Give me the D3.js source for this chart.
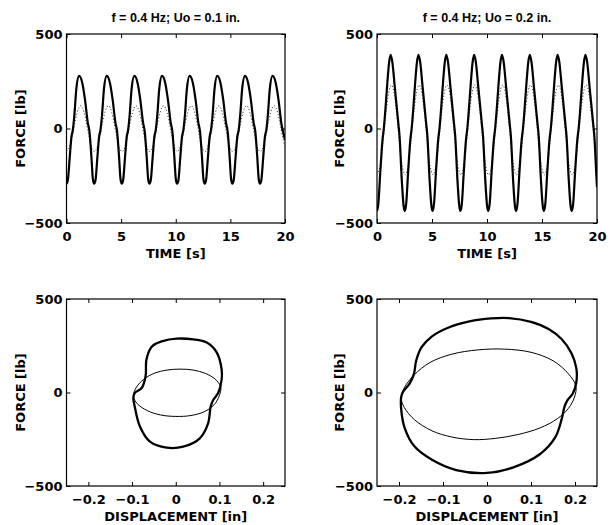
<!DOCTYPE html>
<html lang="en">
<head>
  <meta charset="utf-8">
  <title>Force histories and hysteresis loops</title>
  <script src="https://d3js.org/d3.v7.min.js"></script>
  <style>
    body { margin: 0; background: #fff; }
    text { font-weight: bold; fill: #000; }
    .lab { font-family: "DejaVu Sans", Verdana, sans-serif; }
    .ttl { font-family: "Liberation Sans", Arial, sans-serif; }
  </style>
</head>
<body>
<script>
// ---- data ----
var titles = ["f = 0.4 Hz; Uo = 0.1 in.", "f = 0.4 Hz; Uo = 0.2 in."];
var timeTicks = [0, 5, 10, 15, 20];
var forceTicks = [-500, 0, 500];
var dispTicks = [-0.2, -0.1, 0, 0.1, 0.2];

// measured force, Uo = 0.1 in.
var tL = [0, 0.12, 0.3, 0.45, 0.58, 0.72, 0.9, 1.15, 1.45, 1.7, 1.95, 2.1, 2.28, 2.42,
  2.53, 2.65, 2.83, 2.98, 3.11, 3.25, 3.43, 3.68, 3.98, 4.23, 4.48, 4.63, 4.81, 4.95,
  5.06, 5.18, 5.36, 5.51, 5.64, 5.78, 5.96, 6.21, 6.51, 6.76, 7.01, 7.16, 7.34, 7.48,
  7.59, 7.71, 7.89, 8.04, 8.17, 8.31, 8.49, 8.74, 9.04, 9.29, 9.54, 9.69, 9.87, 10.01,
  10.12, 10.24, 10.42, 10.57, 10.7, 10.84, 11.02, 11.27, 11.57, 11.82, 12.07, 12.22, 12.4, 12.54,
  12.65, 12.77, 12.95, 13.1, 13.23, 13.37, 13.55, 13.8, 14.1, 14.35, 14.6, 14.75, 14.93, 15.07,
  15.18, 15.3, 15.48, 15.63, 15.76, 15.9, 16.08, 16.33, 16.63, 16.88, 17.13, 17.28, 17.46, 17.6,
  17.71, 17.83, 18.01, 18.16, 18.29, 18.43, 18.61, 18.86, 19.16, 19.41, 19.66, 19.81, 20];
var fL = [-292, -275, -150, -45, -8, 70, 210, 278, 240, 150, 30, -15, -150, -270,
  -292, -275, -150, -45, -8, 70, 210, 278, 240, 150, 30, -15, -150, -270,
  -292, -275, -150, -45, -8, 70, 210, 278, 240, 150, 30, -15, -150, -270,
  -292, -275, -150, -45, -8, 70, 210, 278, 240, 150, 30, -15, -150, -270,
  -292, -275, -150, -45, -8, 70, 210, 278, 240, 150, 30, -15, -150, -270,
  -292, -275, -150, -45, -8, 70, 210, 278, 240, 150, 30, -15, -150, -270,
  -292, -275, -150, -45, -8, 70, 210, 278, 240, 150, 30, -15, -150, -270,
  -292, -275, -150, -45, -8, 70, 210, 278, 240, 150, 30, -15, -60];

// measured force, Uo = 0.2 in.
var tR = [0, 0.12, 0.3, 0.5, 0.62, 0.75, 0.95, 1.1, 1.24, 1.4, 1.6, 1.8, 1.95, 2.05, 2.25, 2.42,
  2.53, 2.65, 2.83, 3.03, 3.15, 3.28, 3.48, 3.63, 3.77, 3.93, 4.13, 4.33, 4.48, 4.58, 4.78, 4.95,
  5.06, 5.18, 5.36, 5.56, 5.68, 5.81, 6.01, 6.16, 6.3, 6.46, 6.66, 6.86, 7.01, 7.11, 7.31, 7.48,
  7.59, 7.71, 7.89, 8.09, 8.21, 8.34, 8.54, 8.69, 8.83, 8.99, 9.19, 9.39, 9.54, 9.64, 9.84, 10.01,
  10.12, 10.24, 10.42, 10.62, 10.74, 10.87, 11.07, 11.22, 11.36, 11.52, 11.72, 11.92, 12.07, 12.17, 12.37, 12.54,
  12.65, 12.77, 12.95, 13.15, 13.27, 13.4, 13.6, 13.75, 13.89, 14.05, 14.25, 14.45, 14.6, 14.7, 14.9, 15.07,
  15.18, 15.3, 15.48, 15.68, 15.8, 15.93, 16.13, 16.28, 16.42, 16.58, 16.78, 16.98, 17.13, 17.23, 17.43, 17.6,
  17.71, 17.83, 18.01, 18.21, 18.33, 18.46, 18.66, 18.81, 18.95, 19.11, 19.31, 19.51, 19.66, 19.76, 19.96, 20];
var fR = [-436, -400, -230, -60, 0, 90, 250, 350, 390, 350, 230, 110, 20, -40, -270, -410,
  -436, -400, -230, -60, 0, 90, 250, 350, 390, 350, 230, 110, 20, -40, -270, -410,
  -436, -400, -230, -60, 0, 90, 250, 350, 390, 350, 230, 110, 20, -40, -270, -410,
  -436, -400, -230, -60, 0, 90, 250, 350, 390, 350, 230, 110, 20, -40, -270, -410,
  -436, -400, -230, -60, 0, 90, 250, 350, 390, 350, 230, 110, 20, -40, -270, -410,
  -436, -400, -230, -60, 0, 90, 250, 350, 390, 350, 230, 110, 20, -40, -270, -410,
  -436, -400, -230, -60, 0, 90, 250, 350, 390, 350, 230, 110, 20, -40, -270, -410,
  -436, -400, -230, -60, 0, 90, 250, 350, 390, 350, 230, 110, 20, -40, -270, -310];

// dotted (viscous) force, both cases share sample times
var tDot = [0, 0.35, 0.66, 0.98, 1.3, 1.61, 1.92, 2.22,
  2.56, 2.88, 3.19, 3.51, 3.83, 4.14, 4.45, 4.75,
  5.09, 5.41, 5.72, 6.04, 6.36, 6.67, 6.98, 7.28,
  7.62, 7.94, 8.25, 8.57, 8.89, 9.2, 9.51, 9.81,
  10.15, 10.47, 10.78, 11.1, 11.42, 11.73, 12.04, 12.34,
  12.68, 13, 13.31, 13.63, 13.95, 14.26, 14.57, 14.87,
  15.21, 15.53, 15.84, 16.16, 16.48, 16.79, 17.1, 17.4,
  17.74, 18.06, 18.37, 18.69, 19.01, 19.32, 19.63, 19.93, 20];
var fDotL = [-122, -85, 0, 85, 120, 85, 0, -85, -122, -85, 0, 85, 120, 85, 0, -85,
  -122, -85, 0, 85, 120, 85, 0, -85, -122, -85, 0, 85, 120, 85, 0, -85,
  -122, -85, 0, 85, 120, 85, 0, -85, -122, -85, 0, 85, 120, 85, 0, -85,
  -122, -85, 0, 85, 120, 85, 0, -85, -122, -85, 0, 85, 120, 85, 0, -85, -100];
var fDotR = [-245, -175, -5, 160, 230, 165, 0, -170, -245, -175, -5, 160, 230, 165, 0, -170,
  -245, -175, -5, 160, 230, 165, 0, -170, -245, -175, -5, 160, 230, 165, 0, -170,
  -245, -175, -5, 160, 230, 165, 0, -170, -245, -175, -5, 160, 230, 165, 0, -170,
  -245, -175, -5, 160, 230, 165, 0, -170, -245, -175, -5, 160, 230, 165, 0, -170, -200];

// hysteresis loops (force vs displacement)
var loopXL = [-0.097, -0.094, -0.078, -0.069, -0.067, -0.055, -0.03, 0.002, 0.04, 0.071, 0.094, 0.105,
  0.105, 0.097, 0.086, 0.08, 0.074, 0.055, 0.017, -0.021, -0.059, -0.082, -0.094];
var loopFL = [-30, -3, 24, 87, 177, 245, 275, 288, 284, 267, 213, 123,
  69, -3, -39, -74, -165, -245, -290, -295, -263, -182, -74];
var ellXL = [-0.097, -0.09, -0.074, -0.05, -0.02, 0.01, 0.04, 0.068, 0.09, 0.103, 0.1, 0.088,
  0.065, 0.035, 0.0, -0.035, -0.065, -0.088];
var ellFL = [-20, 28, 69, 102, 120, 125, 120, 102, 72, 30, -15, -65,
  -103, -123, -128, -120, -97, -60];
var loopXR = [-0.195, -0.191, -0.176, -0.166, -0.161, -0.149, -0.125, -0.09, -0.04, 0.01, 0.05, 0.1,
  0.14, 0.17, 0.192, 0.203, 0.203, 0.195, 0.183, 0.176, 0.17, 0.155, 0.12, 0.06,
  0.0, -0.07, -0.125, -0.165, -0.187, -0.195];
var loopFR = [-24, 3, 47, 100, 170, 241, 300, 345, 380, 396, 398, 378,
  340, 285, 210, 130, 55, -5, -41, -77, -140, -240, -330, -400,
  -430, -415, -360, -288, -190, -90];
var ellXR = [-0.195, -0.188, -0.165, -0.13, -0.08, -0.02, 0.04, 0.1, 0.15, 0.185, 0.202,
  0.199, 0.185, 0.16, 0.12, 0.07, 0.02, -0.03, -0.08, -0.125, -0.165, -0.188];
var ellFR = [-30, 25, 95, 160, 205, 228, 232, 215, 170, 100, 35,
  -24, -85, -140, -190, -225, -245, -252, -238, -205, -145, -80];

// ---- drawing ----
var svg = d3.select("body").append("svg")
  .attr("width", 610)
  .attr("height", 525);

var minus = function(d) { return d3.format("")(d).replace("-", "\u2212"); };

function panel(box, xDomain, xTicks, xLabel, yLabelX, title) {
  var x = d3.scaleLinear().domain(xDomain).range([box.x0, box.x1]);
  var y = d3.scaleLinear().domain([-500, 500]).range([box.y1, box.y0]);
  var g = svg.append("g");
  var id = "clip" + Math.round(box.x0) + "_" + Math.round(box.y0);

  g.append("clipPath").attr("id", id).append("rect")
    .attr("x", box.x0).attr("y", box.y0)
    .attr("width", box.x1 - box.x0).attr("height", box.y1 - box.y0);

  var ax = function(a, tr) {
    var s = g.append("g").attr("transform", tr).call(a);
    s.select(".domain").remove();
    s.selectAll("line").attr("stroke", "#000");
    s.selectAll("text").attr("font-size", 13).attr("fill", "#000")
      .attr("class", "lab").attr("font-family", null);
    return s;
  };
  ax(d3.axisBottom(x).tickValues(xTicks).tickSize(-4).tickPadding(9).tickFormat(minus),
    "translate(0," + box.y1 + ")");
  ax(d3.axisTop(x).tickValues(xTicks).tickSize(-4).tickFormat(""),
    "translate(0," + box.y0 + ")");
  ax(d3.axisLeft(y).tickValues(forceTicks).tickSize(-4).tickPadding(4).tickFormat(minus),
    "translate(" + box.x0 + ",0)");
  ax(d3.axisRight(y).tickValues(forceTicks).tickSize(-4).tickFormat(""),
    "translate(" + box.x1 + ",0)");

  g.append("rect")
    .attr("x", box.x0).attr("y", box.y0)
    .attr("width", box.x1 - box.x0).attr("height", box.y1 - box.y0)
    .attr("fill", "none").attr("stroke", "#000").attr("stroke-width", 1.2);

  g.append("text").attr("class", "lab")
    .attr("transform", "translate(" + yLabelX + "," + ((box.y0 + box.y1) / 2) + ") rotate(-90)")
    .attr("text-anchor", "middle").attr("dy", "0.35em")
    .attr("font-size", 13).text("FORCE [lb]");

  g.append("text").attr("class", "lab")
    .attr("x", (box.x0 + box.x1) / 2).attr("y", box.y1 + 35)
    .attr("text-anchor", "middle").attr("font-size", 13).text(xLabel);

  if (title) {
    g.append("text").attr("class", "ttl")
      .attr("x", (box.x0 + box.x1) / 2).attr("y", box.y0 - 12)
      .attr("text-anchor", "middle").attr("font-size", 12.5).text(title);
  }
  return { g: g.append("g").attr("clip-path", "url(#" + id + ")"), x: x, y: y };
}

function series(p, xs, ys, curve, width, dash, colour) {
  var pts = xs.map(function(v, i) { return [v, ys[i]]; });
  var line = d3.line()
    .x(function(d) { return p.x(d[0]); })
    .y(function(d) { return p.y(d[1]); })
    .curve(curve);
  p.g.append("path")
    .attr("d", line(pts))
    .attr("fill", "none")
    .attr("stroke", colour || "#000")
    .attr("stroke-width", width)
    .attr("stroke-linejoin", "round")
    .attr("stroke-dasharray", dash || null);
}

var boxTL = { x0: 66.5, x1: 285, y0: 34, y1: 223 };
var boxTR = { x0: 377, x1: 597, y0: 34, y1: 223 };
var boxBL = { x0: 66.5, x1: 285, y0: 299, y1: 486 };
var boxBR = { x0: 377, x1: 597, y0: 299, y1: 486 };

var p1 = panel(boxTL, [0, 20], timeTicks, "TIME [s]", 20, titles[0]);
series(p1, tDot, fDotL, d3.curveNatural, 1, "1.2,2", "#444");
series(p1, tL, fL, d3.curveMonotoneX, 2.2);

var p2 = panel(boxTR, [0, 20], timeTicks, "TIME [s]", 339, titles[1]);
series(p2, tDot, fDotR, d3.curveNatural, 1, "1.2,2", "#444");
series(p2, tR, fR, d3.curveMonotoneX, 2.2);

var p3 = panel(boxBL, [-0.25, 0.25], dispTicks, "DISPLACEMENT [in]", 20, null);
series(p3, ellXL, ellFL, d3.curveCatmullRomClosed, 1);
series(p3, loopXL, loopFL, d3.curveCatmullRomClosed, 2.3);

var p4 = panel(boxBR, [-0.25, 0.25], dispTicks, "DISPLACEMENT [in]", 339, null);
series(p4, ellXR, ellFR, d3.curveCatmullRomClosed, 1);
series(p4, loopXR, loopFR, d3.curveCatmullRomClosed, 2.3);
</script>
</body>
</html>
